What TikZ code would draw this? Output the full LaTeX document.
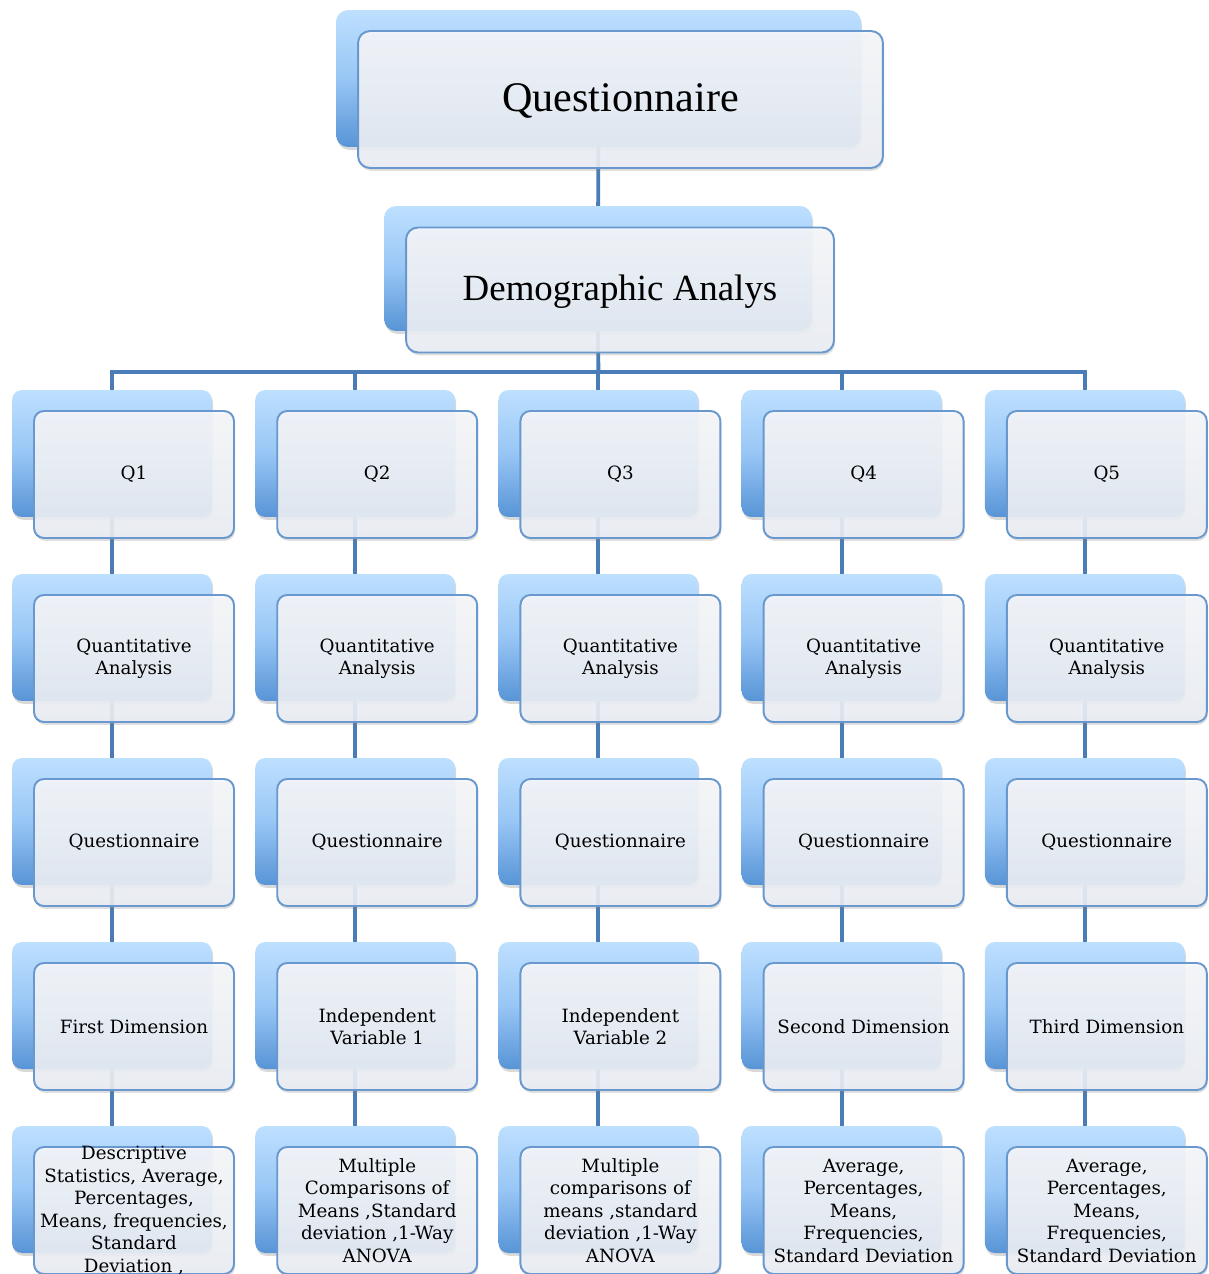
\documentclass[tikz,border=0pt]{standalone}
\usepackage{fontspec}
\setmainfont{DejaVu Serif}
\newfontfamily\titlefont{Liberation Serif}
\usetikzlibrary{shadows,backgrounds}
\definecolor{linkblue}{RGB}{74,124,184}
\definecolor{backtop}{RGB}{190,224,255}
\definecolor{backmid}{RGB}{152,198,245}
\definecolor{backbot}{RGB}{88,148,214}
\definecolor{frontline}{RGB}{104,152,206}
\definecolor{fronttop}{RGB}{246,247,250}
\definecolor{frontbot}{RGB}{234,238,244}

\begin{document}
\begin{tikzpicture}[x=0.02cm,y=-0.02cm,
    back/.style={rectangle,outer sep=0pt,rounded corners=0.2cm,
      minimum width=4cm,minimum height=2.54cm,
      top color=backtop,bottom color=backbot,middle color=backmid,
      drop shadow={opacity=0.3,shadow xshift=0.6pt,shadow yshift=-1.6pt}},
    front/.style={rectangle,outer sep=0pt,rounded corners=0.2cm,
      minimum width=4cm,minimum height=2.54cm,draw=frontline,line width=1.1pt,
      top color=fronttop,bottom color=frontbot,fill opacity=0.9,text opacity=1,
      drop shadow={opacity=0.25,shadow xshift=0.6pt,shadow yshift=-1.6pt},
      align=center,font=\fontsize{10.4pt}{12.8pt}\selectfont},
    link/.style={draw=linkblue,line width=2.2pt}]
  \useasboundingbox (0,0) rectangle (1208,1274);

  % top levels
  \node[back]  (topb)  at (598.5,78.5) [minimum width=10.5cm,minimum height=2.74cm,rounded corners=0.24cm] {};
  \node[front] (top)   at (620.5,99.5) [minimum width=10.5cm,minimum height=2.74cm,rounded corners=0.24cm,text height=0.62cm,font=\titlefont\fontsize{24pt}{28pt}\selectfont] {Questionnaire};
  \node[back]  (demob) at (598,268.5) [minimum width=8.56cm,minimum height=2.5cm,rounded corners=0.24cm] {};
  \node[front] (demo)  at (620,290)   [minimum width=8.56cm,minimum height=2.5cm,rounded corners=0.24cm,text height=0.56cm,font=\titlefont\fontsize{21pt}{25pt}\selectfont] {Demographic Analys};

  % questions
  \node[back]  (qb1) at ( 112.0,453.5) {};
  \node[front] (q1)  at ( 134.0,474.5) {Q1};
  \node[back]  (qb2) at ( 355.2,453.5) {};
  \node[front] (q2)  at ( 377.2,474.5) {Q2};
  \node[back]  (qb3) at ( 598.4,453.5) {};
  \node[front] (q3)  at ( 620.4,474.5) {Q3};
  \node[back]  (qb4) at ( 841.6,453.5) {};
  \node[front] (q4)  at ( 863.6,474.5) {Q4};
  \node[back]  (qb5) at (1084.8,453.5) {};
  \node[front] (q5)  at (1106.8,474.5) {Q5};

  % analysis type
  \node[back]  (anb1) at ( 112.0,637.5) {};
  \node[front] (an1)  at ( 134.0,658.5) {Quantitative\\Analysis};
  \node[back]  (anb2) at ( 355.2,637.5) {};
  \node[front] (an2)  at ( 377.2,658.5) {Quantitative\\Analysis};
  \node[back]  (anb3) at ( 598.4,637.5) {};
  \node[front] (an3)  at ( 620.4,658.5) {Quantitative\\Analysis};
  \node[back]  (anb4) at ( 841.6,637.5) {};
  \node[front] (an4)  at ( 863.6,658.5) {Quantitative\\Analysis};
  \node[back]  (anb5) at (1084.8,637.5) {};
  \node[front] (an5)  at (1106.8,658.5) {Quantitative\\Analysis};

  % tool
  \node[back]  (toolb1) at ( 112.0,821.5) {};
  \node[front] (tool1)  at ( 134.0,842.5) {Questionnaire};
  \node[back]  (toolb2) at ( 355.2,821.5) {};
  \node[front] (tool2)  at ( 377.2,842.5) {Questionnaire};
  \node[back]  (toolb3) at ( 598.4,821.5) {};
  \node[front] (tool3)  at ( 620.4,842.5) {Questionnaire};
  \node[back]  (toolb4) at ( 841.6,821.5) {};
  \node[front] (tool4)  at ( 863.6,842.5) {Questionnaire};
  \node[back]  (toolb5) at (1084.8,821.5) {};
  \node[front] (tool5)  at (1106.8,842.5) {Questionnaire};

  % variables
  \node[back]  (varb1) at ( 112.0,1005.5) {};
  \node[front] (var1)  at ( 134.0,1026.5) {First Dimension};
  \node[back]  (varb2) at ( 355.2,1005.5) {};
  \node[front] (var2)  at ( 377.2,1026.5) {Independent\\Variable 1};
  \node[back]  (varb3) at ( 598.4,1005.5) {};
  \node[front] (var3)  at ( 620.4,1026.5) {Independent\\Variable 2};
  \node[back]  (varb4) at ( 841.6,1005.5) {};
  \node[front] (var4)  at ( 863.6,1026.5) {Second Dimension};
  \node[back]  (varb5) at (1084.8,1005.5) {};
  \node[front] (var5)  at (1106.8,1026.5) {Third Dimension};

  % statistics
  \node[back]  (statb1) at ( 112.0,1189.5) {};
  \node[front] (stat1)  at ( 134.0,1210.5) [label={[align=center,font=\fontsize{10.4pt}{12.8pt}\selectfont]center:{Descriptive\\Statistics, Average,\\Percentages,\\Means, frequencies,\\Standard\\Deviation ,}}] {};
  \node[back]  (statb2) at ( 355.2,1189.5) {};
  \node[front] (stat2)  at ( 377.2,1210.5) {Multiple\\Comparisons of\\Means ,Standard\\deviation ,1-Way\\ANOVA};
  \node[back]  (statb3) at ( 598.4,1189.5) {};
  \node[front] (stat3)  at ( 620.4,1210.5) {Multiple\\comparisons of\\means ,standard\\deviation ,1-Way\\ANOVA};
  \node[back]  (statb4) at ( 841.6,1189.5) {};
  \node[front] (stat4)  at ( 863.6,1210.5) {Average,\\Percentages,\\Means,\\Frequencies,\\Standard Deviation};
  \node[back]  (statb5) at (1084.8,1189.5) {};
  \node[front] (stat5)  at (1106.8,1210.5) {Average,\\Percentages,\\Means,\\Frequencies,\\Standard Deviation};

  \begin{scope}[on background layer]
    \coordinate (bus) at (598.4,372);
    \path[link] (topb) edge (demob);
    \draw[link] (demob.south) -- (bus);
    \draw[link] (qb1.north) |- (bus);
    \draw[link] (qb2.north) |- (bus);
    \draw[link] (qb3.north) -- (bus);
    \draw[link] (qb4.north) |- (bus);
    \draw[link] (qb5.north) |- (bus);

    \path[link] (qb1) edge (anb1);
    \path[link] (qb2) edge (anb2);
    \path[link] (qb3) edge (anb3);
    \path[link] (qb4) edge (anb4);
    \path[link] (qb5) edge (anb5);
    \path[link] (anb1) edge (toolb1);
    \path[link] (anb2) edge (toolb2);
    \path[link] (anb3) edge (toolb3);
    \path[link] (anb4) edge (toolb4);
    \path[link] (anb5) edge (toolb5);
    \path[link] (toolb1) edge (varb1);
    \path[link] (toolb2) edge (varb2);
    \path[link] (toolb3) edge (varb3);
    \path[link] (toolb4) edge (varb4);
    \path[link] (toolb5) edge (varb5);
    \path[link] (varb1) edge (statb1);
    \path[link] (varb2) edge (statb2);
    \path[link] (varb3) edge (statb3);
    \path[link] (varb4) edge (statb4);
    \path[link] (varb5) edge (statb5);
  \end{scope}
\end{tikzpicture}
\end{document}
